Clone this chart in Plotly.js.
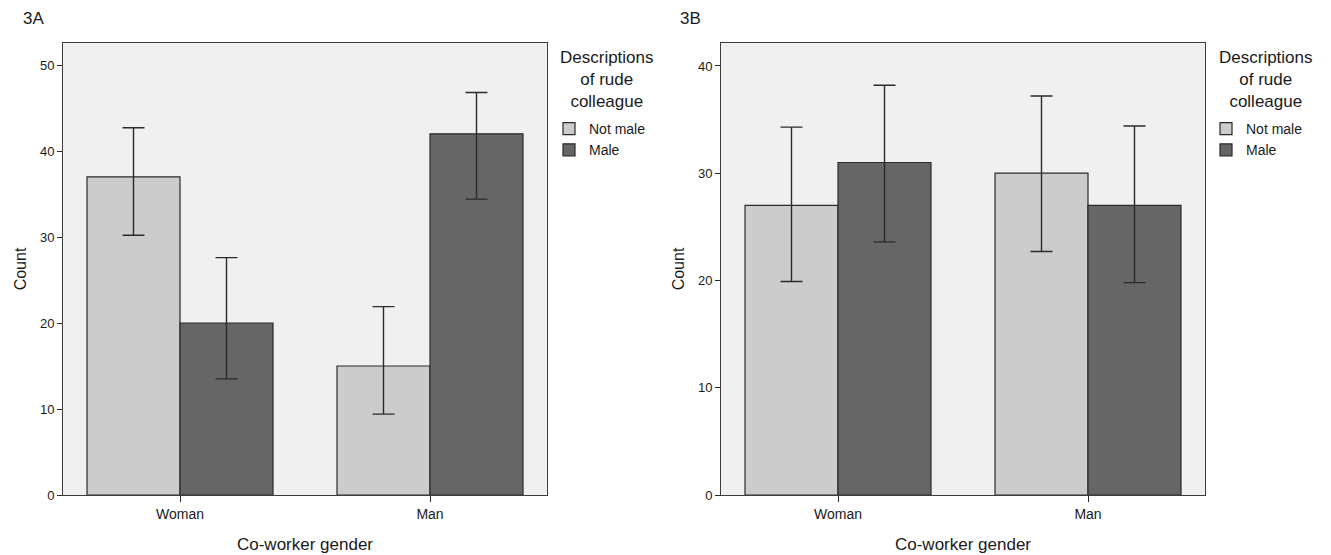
<!DOCTYPE html>
<html>
<head>
<meta charset="utf-8">
<script src="https://cdn.plot.ly/plotly-3.0.1.min.js"></script>
<style>html,body{margin:0;padding:0;background:#fff;}#chart{width:1331px;height:555px;}</style>
</head>
<body>
<div id="chart"></div>
<script>
// ---- Data ----
const categories = ['Woman', 'Man'];
const seriesNames = ['Not male', 'Male'];

// Panel 3A
const A_notMale    = [37, 15];
const A_notMale_lo = [30.2, 9.4];
const A_notMale_hi = [42.7, 21.9];
const A_male       = [20, 42];
const A_male_lo    = [13.5, 34.4];
const A_male_hi    = [27.6, 46.8];

// Panel 3B
const B_notMale    = [27, 30];
const B_notMale_lo = [19.9, 22.7];
const B_notMale_hi = [34.3, 37.2];
const B_male       = [31, 27];
const B_male_lo    = [23.6, 19.8];
const B_male_hi    = [38.2, 34.4];

const yTicksA = [0, 10, 20, 30, 40, 50];
const yTicksB = [0, 10, 20, 30, 40];

// ---- Styling ----
const FONT = 'Liberation Sans, Arial, sans-serif';
const colNot = '#cccccc';
const colMale = '#666666';

function bar(vals, lo, hi, name, color, xa, ya, leg) {
  return {
    type: 'bar', x: categories, y: vals, name: name,
    xaxis: xa, yaxis: ya, legend: leg,
    marker: {color: color, line: {color: '#2a2a2a', width: 1.2}},
    error_y: {
      type: 'data', symmetric: false,
      array: vals.map((v, i) => hi[i] - v),
      arrayminus: vals.map((v, i) => v - lo[i]),
      color: '#2a2a2a', thickness: 1.4, width: 11
    },
    hoverinfo: 'x+y+name'
  };
}

const data = [
  bar(A_notMale, A_notMale_lo, A_notMale_hi, seriesNames[0], colNot, 'x', 'y', 'legend'),
  bar(A_male, A_male_lo, A_male_hi, seriesNames[1], colMale, 'x', 'y', 'legend'),
  bar(B_notMale, B_notMale_lo, B_notMale_hi, seriesNames[0], colNot, 'x2', 'y2', 'legend2'),
  bar(B_male, B_male_lo, B_male_hi, seriesNames[1], colMale, 'x2', 'y2', 'legend2')
];

const W = 1331, H = 555;
const yDom = [1 - 495 / H, 1 - 43 / H];

function xAxis(d0, d1, anchor) {
  return {
    domain: [d0 / W, d1 / W], anchor: anchor,
    type: 'category', range: [-0.468, 1.468],
    showline: true, mirror: true, linecolor: '#3c3c3c', linewidth: 1,
    ticks: 'outside', ticklen: 6, tickcolor: '#2a2a2a', tickwidth: 1.2,
    tickfont: {family: FONT, size: 14, color: '#1a1a1a'},
    showgrid: false, zeroline: false,
    title: {text: 'Co-worker gender', font: {family: FONT, size: 17, color: '#1a1a1a'}, standoff: 17}
  };
}
function yAxis(top, ticks, anchor) {
  return {
    domain: yDom, anchor: anchor, range: [0, top],
    tickvals: ticks, ticktext: ticks.map(String),
    showline: true, mirror: true, linecolor: '#3c3c3c', linewidth: 1,
    ticks: 'outside', ticklen: 5, tickcolor: '#2a2a2a', tickwidth: 1.2,
    tickfont: {family: FONT, size: 13, color: '#1a1a1a'},
    showgrid: false, zeroline: false,
    title: {text: 'Count', font: {family: FONT, size: 16, color: '#1a1a1a'}, standoff: 9}
  };
}

const legTitle = 'Descriptions<br>of rude<br>colleague';
function ann(text, x, y, size, align, xanchor) {
  return {text: text, x: x / W, y: 1 - y / H, xref: 'paper', yref: 'paper',
    showarrow: false, xanchor: xanchor || 'center', yanchor: 'middle', align: align || 'center',
    font: {family: FONT, size: size, color: '#1a1a1a'}};
}

const layout = {
  width: W, height: H,
  margin: {l: 0, r: 0, t: 0, b: 0},
  paper_bgcolor: '#ffffff',
  plot_bgcolor: '#f0f0f0',
  barmode: 'group', bargap: 0.256, bargroupgap: 0,
  font: {family: FONT, color: '#1a1a1a'},
  xaxis: xAxis(63, 547, 'y'),
  yaxis: yAxis(52.56, yTicksA, 'x'),
  xaxis2: xAxis(721, 1205, 'y2'),
  yaxis2: yAxis(42.14, yTicksB, 'x2'),
  showlegend: true,
  legend: {x: 549 / W, y: 1 - 113 / H, xanchor: 'left', yanchor: 'top',
    font: {family: FONT, size: 14, color: '#1a1a1a'}, bgcolor: 'rgba(0,0,0,0)',
    borderwidth: 0, tracegroupgap: 0, itemclick: false, itemdoubleclick: false},
  legend2: {x: 1206 / W, y: 1 - 113 / H, xanchor: 'left', yanchor: 'top',
    font: {family: FONT, size: 14, color: '#1a1a1a'}, bgcolor: 'rgba(0,0,0,0)',
    borderwidth: 0, tracegroupgap: 0, itemclick: false, itemdoubleclick: false},
  annotations: [
    ann('3A', 33, 18, 17),
    ann('3B', 690, 18, 17),
    ann(legTitle, 607, 80, 17),
    ann(legTitle, 1266, 80, 17)
  ]
};

Plotly.newPlot('chart', data, layout, {displayModeBar: false, staticPlot: false});
</script>
</body>
</html>
